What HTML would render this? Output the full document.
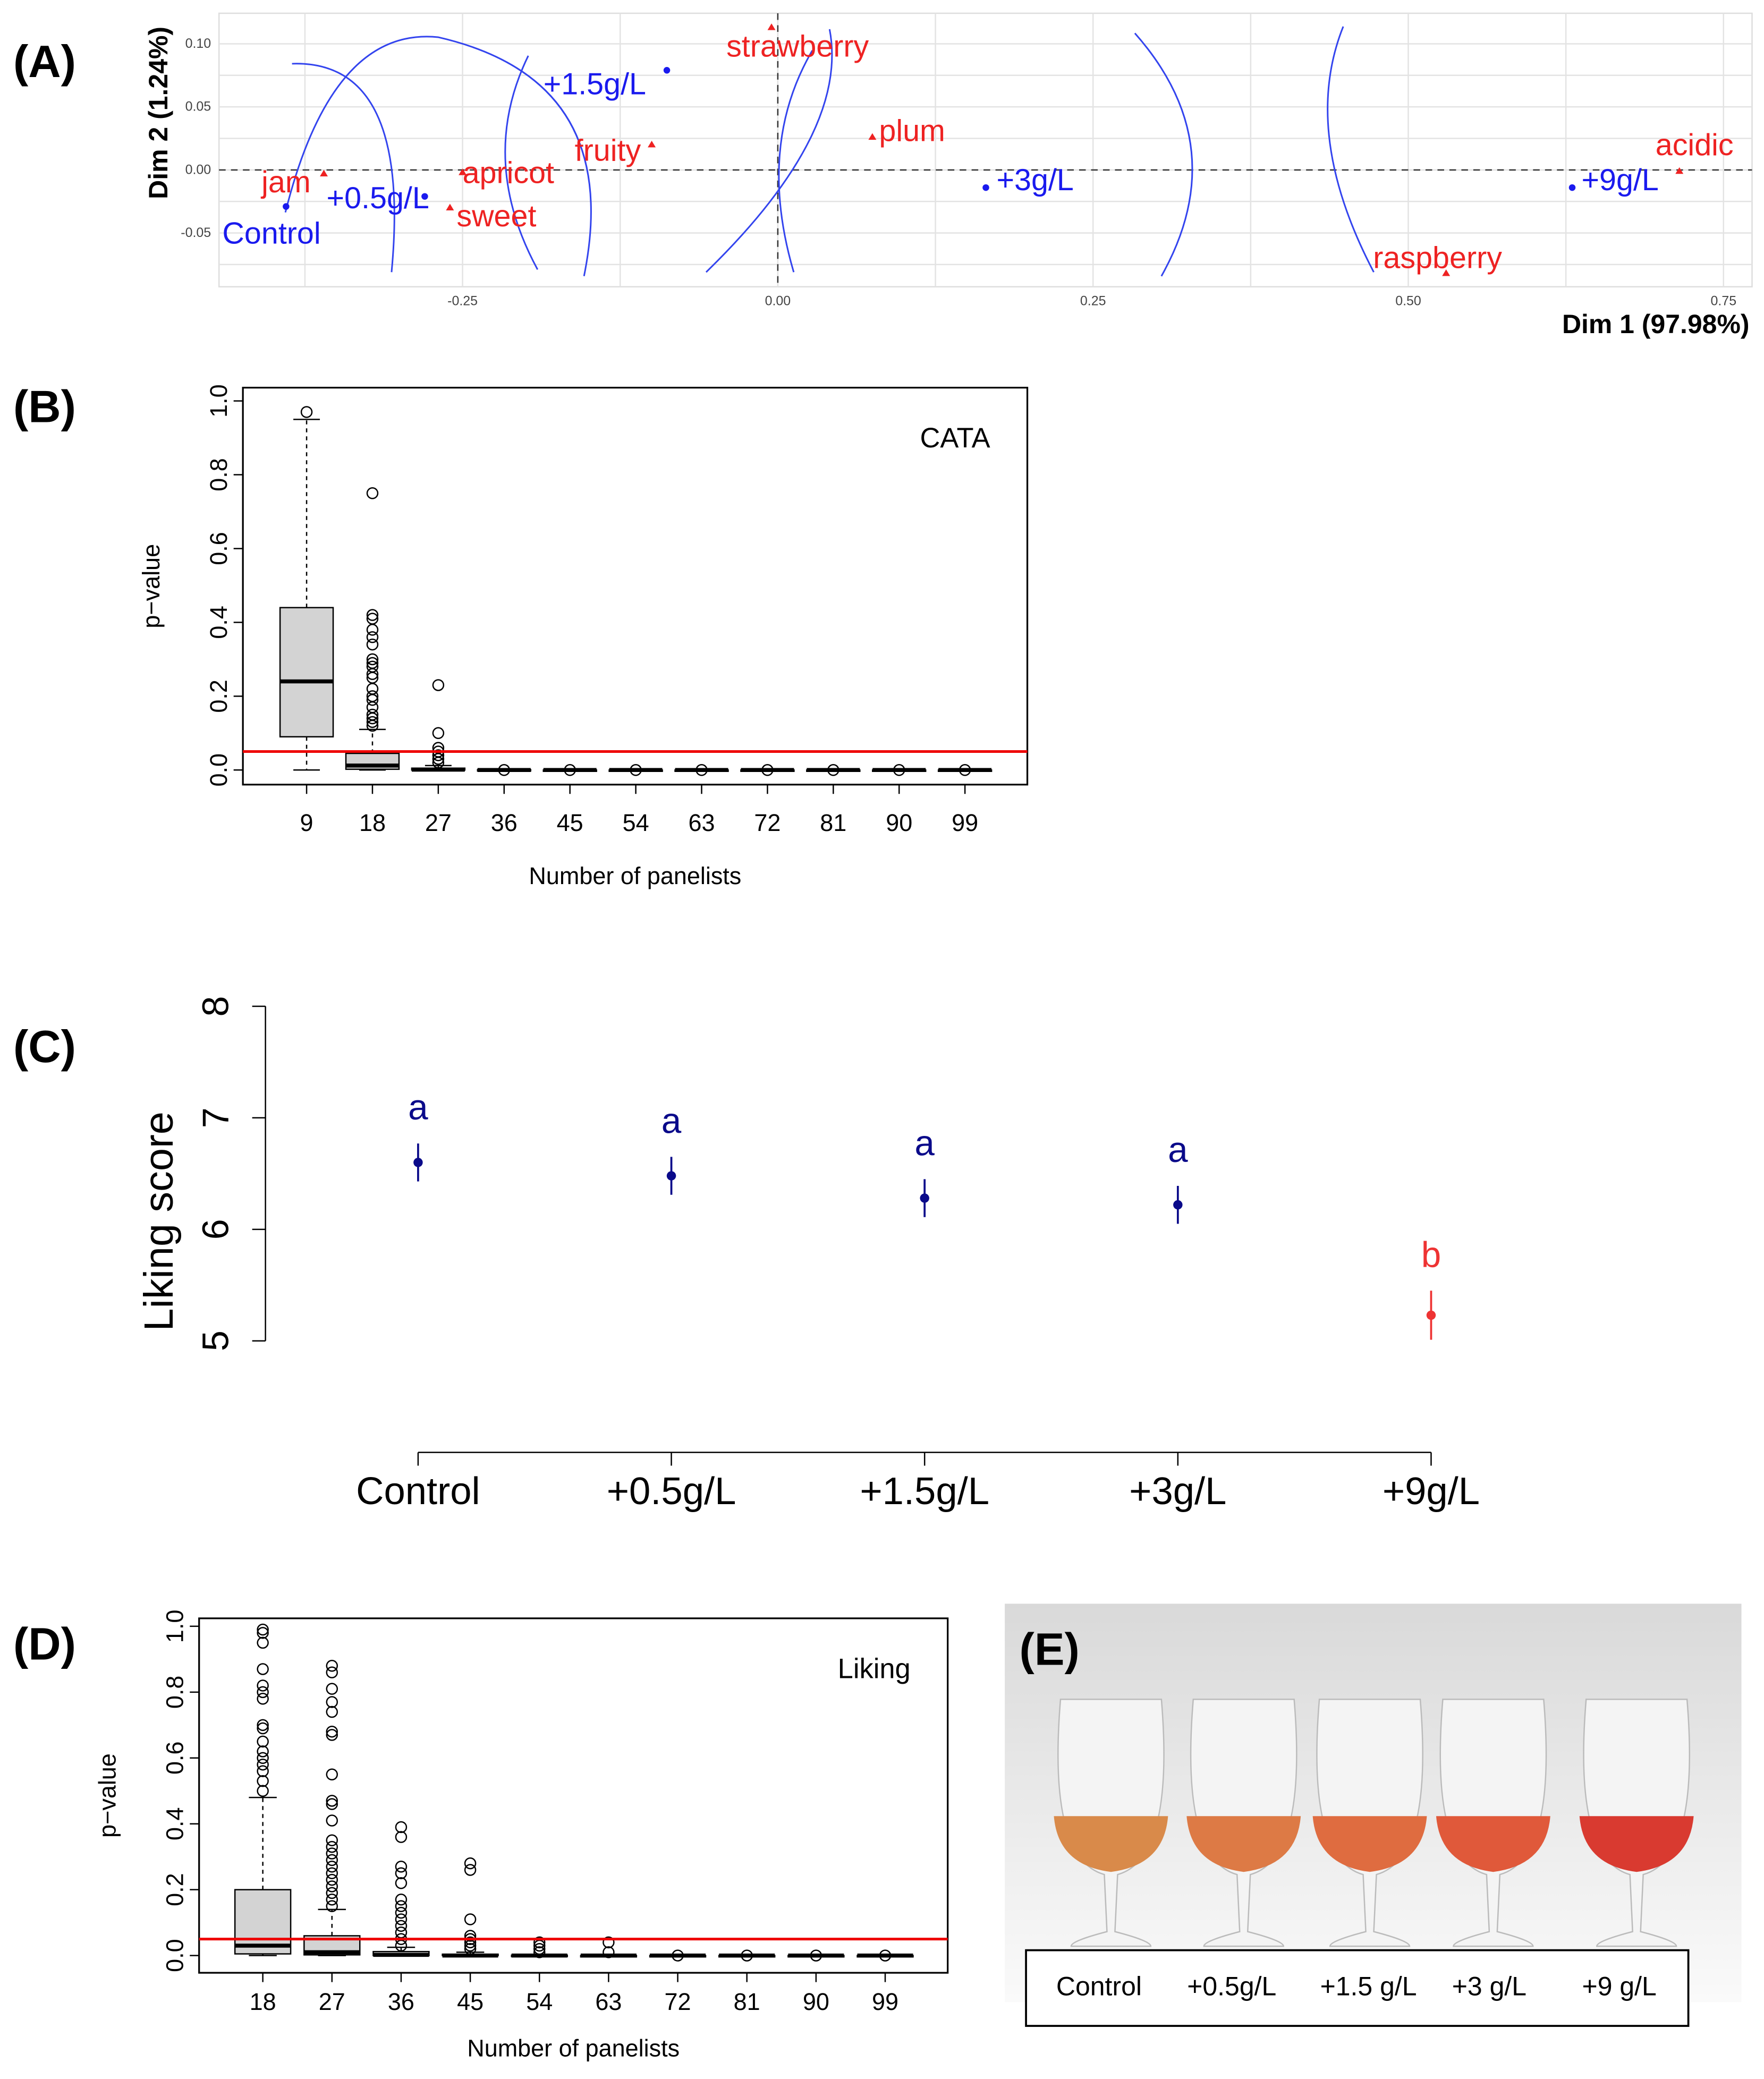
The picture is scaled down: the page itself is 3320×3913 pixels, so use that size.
<!DOCTYPE html>
<html><head><meta charset="utf-8"><style>
html,body{margin:0;padding:0;background:#fff}
svg{display:block;font-family:"Liberation Sans",Arial,sans-serif}
</style></head><body>
<svg id="fig" width="3320" height="3913" viewBox="0 0 1329 1566" preserveAspectRatio="none" xmlns="http://www.w3.org/2000/svg">
<rect width="1329" height="1566" fill="#fff"/>
<g font-weight="bold" font-size="34" fill="#000">
<text x="10" y="58">(A)</text>
<text x="10" y="318">(B)</text>
<text x="10" y="800">(C)</text>
<text x="10" y="1250">(D)</text>
</g>
<g id="pa"></g>
<g id="pb"></g>
<g id="pc"></g>
<g id="pd"></g>
<g id="pe"></g>
</svg>
<script>
// ---------- Panel A data ----------
const aProducts=["Control","+0.5g/L","+1.5g/L","+3g/L","+9g/L"];
const aProdX=[-0.39,-0.28,-0.088,0.165,0.63];
const aProdY=[-0.029,-0.021,0.079,-0.014,-0.014];
const aAttrs=["jam","apricot","sweet","fruity","strawberry","plum","raspberry","acidic"];
const aAttrX=[-0.36,-0.25,-0.26,-0.1,-0.005,0.075,0.53,0.715];
const aAttrY=[-0.003,-0.002,-0.03,0.02,0.113,0.026,-0.082,-0.001];
const aXTicks=[-0.25,0,0.25,0.5,0.75];
const aXTickLabels=["-0.25","0.00","0.25","0.50","0.75"];
const aYTicks=[-0.05,0,0.05,0.1];
const aYTickLabels=["-0.05","0.00","0.05","0.10"];
// ---------- Panel B data ----------
const bCats=["9","18","27","36","45","54","63","72","81","90","99"];
const bQ1=[0.09,0.002,0,0,0,0,0,0,0,0,0];
const bMed=[0.24,0.012,0.001,0,0,0,0,0,0,0,0];
const bQ3=[0.44,0.045,0.005,0.001,0,0,0,0,0,0,0];
const bLo=[0,0,0,0,0,0,0,0,0,0,0];
const bHi=[0.95,0.11,0.012,0.002,0,0,0,0,0,0,0];
const bOut=[[0.97],[0.75,0.42,0.41,0.38,0.36,0.34,0.3,0.29,0.28,0.26,0.25,0.22,0.2,0.19,0.17,0.15,0.14,0.13,0.12],[0.23,0.1,0.06,0.05,0.04,0.03,0.02],[0],[0],[0],[0],[0],[0],[0],[0]];
const bYTicks=[0,0.2,0.4,0.6,0.8,1.0];
const bYTickLabels=["0.0","0.2","0.4","0.6","0.8","1.0"];
// ---------- Panel C data ----------
const cCats=["Control","+0.5g/L","+1.5g/L","+3g/L","+9g/L"];
const cMeans=[6.6,6.48,6.28,6.22,5.23];
const cErr=[0.17,0.17,0.17,0.17,0.22];
const cLetters=["a","a","a","a","b"];
const cYTicks=[5,6,7,8];
// ---------- Panel D data ----------
const dCats=["18","27","36","45","54","63","72","81","90","99"];
const dQ1=[0.005,0.002,0,0,0,0,0,0,0,0];
const dMed=[0.03,0.01,0.002,0,0,0,0,0,0,0];
const dQ3=[0.2,0.06,0.012,0.004,0.001,0,0,0,0,0];
const dLo=[0,0,0,0,0,0,0,0,0,0];
const dHi=[0.48,0.14,0.025,0.01,0.002,0.001,0,0,0,0];
const dOut=[[0.99,0.98,0.95,0.87,0.82,0.8,0.78,0.7,0.69,0.65,0.62,0.6,0.58,0.56,0.53,0.5],[0.88,0.86,0.81,0.77,0.74,0.68,0.67,0.55,0.47,0.46,0.41,0.35,0.33,0.31,0.29,0.27,0.25,0.23,0.21,0.19,0.17,0.15],[0.39,0.36,0.27,0.25,0.22,0.17,0.15,0.13,0.11,0.09,0.07,0.05,0.03],[0.28,0.26,0.11,0.06,0.05,0.04,0.03,0.02],[0.04,0.03,0.02,0.01],[0.04,0.01],[0],[0],[0],[0]];
const dYTicks=[0,0.2,0.4,0.6,0.8,1.0];
const dYTickLabels=["0.0","0.2","0.4","0.6","0.8","1.0"];
// ---------- Panel E ----------
const eLabels=["Control","+0.5g/L","+1.5 g/L","+3 g/L","+9 g/L"];
const eColors=["#d98a4a","#dd7a45","#df6c40","#e0593a","#d93a30"];

const NS="http://www.w3.org/2000/svg";
function mk(parent,tag,attrs,text){const e=document.createElementNS(NS,tag);for(const k in attrs)e.setAttribute(k,attrs[k]);if(text!==undefined)e.textContent=text;parent.appendChild(e);return e;}

// ===== Panel A =====
(function(){
const g=document.getElementById('pa');
const ax=v=>586+v*950, ay=v=>128-v*950;
mk(g,'rect',{x:165,y:10,width:1155,height:206,fill:'#fff',stroke:'#ddd'});
for(let v=-0.5;v<=0.76;v+=0.125){const x=ax(v);if(x<165||x>1320)continue;
 mk(g,'line',{x1:x,x2:x,y1:10,y2:216,stroke:'#e3e3e3','stroke-width':1});}
for(let v=-0.1;v<=0.13;v+=0.025){const y=ay(v);if(y<10||y>216)continue;
 mk(g,'line',{x1:165,x2:1320,y1:y,y2:y,stroke:'#e3e3e3','stroke-width':1});}
mk(g,'line',{x1:165,x2:1320,y1:ay(0),y2:ay(0),stroke:'#333','stroke-dasharray':'5,4'});
mk(g,'line',{x1:ax(0),x2:ax(0),y1:10,y2:216,stroke:'#333','stroke-dasharray':'5,4'});
aXTicks.forEach((v,i)=>{const t=mk(g,'text',{x:ax(v),y:230,'font-size':10,'text-anchor':'middle',fill:'#444'},aXTickLabels[i]);
 });
aYTicks.forEach((v,i)=>{const t=mk(g,'text',{x:159,y:ay(v)+3,'font-size':10,'text-anchor':'end',fill:'#444'},aYTickLabels[i]);
 });
let t=mk(g,'text',{x:1318,y:251,'font-size':20,'font-weight':'bold','text-anchor':'end'},"Dim 1 (97.98%)");

t=mk(g,'text',{x:0,y:0,'font-size':20,'font-weight':'bold','text-anchor':'middle',transform:'translate(126,85) rotate(-90)'},"Dim 2 (1.24%)");

const arcs=["M220,48 Q310,45 295,205","M215,160 Q250,20 330,28 Q470,60 440,208","M398,42 Q360,120 405,203","M532,205 Q640,100 625,22","M598,205 Q570,110 612,38","M855,25 Q930,110 875,208","M1012,20 Q980,100 1035,205"];
arcs.forEach(d=>{const p=mk(g,'path',{d:d,fill:'none',stroke:'#3344ee','stroke-width':1.2});
 });
const pOff=[[-48,28],[-74,9],[-93,18],[8,2],[7,2]];
aProducts.forEach((n,i)=>{const x=ax(aProdX[i]),y=ay(aProdY[i]);
 const c=mk(g,'circle',{cx:x,cy:y,r:2.5,fill:'#1a1aee'});
 const tt=mk(g,'text',{x:x+pOff[i][0],y:y+pOff[i][1],'font-size':23,fill:'#1a1aee'},n);});
const tOff=[[-47,14],[0,8],[5,14],[-58,12],[-34,22],[5,3],[-55,-4],[-18,-12]];
aAttrs.forEach((n,i)=>{const x=ax(aAttrX[i]),y=ay(aAttrY[i]);
 const p=mk(g,'path',{d:`M${x},${y-3} L${x+3},${y+2} L${x-3},${y+2} Z`,fill:'#e22'});
 const tt=mk(g,'text',{x:x+tOff[i][0],y:y+tOff[i][1],'font-size':23,fill:'#e22'},n);});
})();

// ===== Boxplot helper =====
function boxplot(gid,cats,q1,med,q3,lo,hi,out,yt,ytl,P,title){
const g=document.getElementById(gid);
const y=v=>P.y0-v*P.ys, x=i=>P.x0+i*P.xs;
let r=mk(g,'rect',{x:P.L,y:P.T,width:P.R-P.L,height:P.B-P.T,fill:'none',stroke:'#000','stroke-width':1.3});

yt.forEach((v,i)=>{mk(g,'line',{x1:P.L,x2:P.L-7,y1:y(v),y2:y(v),stroke:'#000'});
 const t=mk(g,'text',{x:0,y:0,'font-size':18,'text-anchor':'middle',transform:`translate(${P.L-12},${y(v)}) rotate(-90)`},ytl[i]);
 });
cats.forEach((c,i)=>{mk(g,'line',{x1:x(i),x2:x(i),y1:P.B,y2:P.B+7,stroke:'#000'});
 const t=mk(g,'text',{x:x(i),y:P.B+P.tk,'font-size':18,'text-anchor':'middle'},c);
 const w=P.bw;
 mk(g,'line',{x1:x(i),x2:x(i),y1:y(q3[i]),y2:y(hi[i]),stroke:'#000','stroke-dasharray':'3,3'});
 mk(g,'line',{x1:x(i),x2:x(i),y1:y(q1[i]),y2:y(lo[i]),stroke:'#000','stroke-dasharray':'3,3'});
 mk(g,'line',{x1:x(i)-w/4,x2:x(i)+w/4,y1:y(hi[i]),y2:y(hi[i]),stroke:'#000'});
 mk(g,'line',{x1:x(i)-w/4,x2:x(i)+w/4,y1:y(lo[i]),y2:y(lo[i]),stroke:'#000'});
 const b=mk(g,'rect',{x:x(i)-w/2,y:y(q3[i]),width:w,height:Math.max(1,y(q1[i])-y(q3[i])),fill:'#d3d3d3',stroke:'#000'});
 
 mk(g,'line',{x1:x(i)-w/2,x2:x(i)+w/2,y1:y(med[i]),y2:y(med[i]),stroke:'#000','stroke-width':3});
 out[i].forEach(v=>{const o=mk(g,'circle',{cx:x(i),cy:y(v),r:4,fill:'none',stroke:'#000','stroke-width':1});});
});
const rl=mk(g,'line',{x1:P.L,x2:P.R,y1:y(0.05),y2:y(0.05),stroke:'#e00','stroke-width':2});
let t=mk(g,'text',{x:(P.L+P.R)/2,y:P.B+P.tt,'font-size':18,'text-anchor':'middle'},"Number of panelists");
t=mk(g,'text',{x:0,y:0,'font-size':18,'text-anchor':'middle',transform:`translate(${P.L-63},${(P.T+P.B)/2}) rotate(-90)`},"p\u2212value");
t=mk(g,'text',{x:P.R-28,y:P.T+45,'font-size':21,'text-anchor':'end'},title);
}
boxplot('pb',bCats,bQ1,bMed,bQ3,bLo,bHi,bOut,bYTicks,bYTickLabels,{L:183,R:774,T:292,B:591,y0:580,ys:278,x0:231,xs:49.6,bw:40,tk:35,tt:75},"CATA");
boxplot('pd',dCats,dQ1,dMed,dQ3,dLo,dHi,dOut,dYTicks,dYTickLabels,{L:150,R:714,T:1219,B:1486,y0:1473,ys:248,x0:198,xs:52.1,bw:42,tk:28,tt:63},"Liking");

// ===== Panel C =====
(function(){
const g=document.getElementById('pc');
const y=v=>1010-(v-5)*84, x=i=>315+i*190.8;
mk(g,'line',{x1:200,x2:200,y1:y(8),y2:y(5),stroke:'#000'});
cYTicks.forEach(v=>{mk(g,'line',{x1:200,x2:190,y1:y(v),y2:y(v),stroke:'#000'});
 const t=mk(g,'text',{x:0,y:0,'font-size':28,'text-anchor':'middle',transform:`translate(172,${y(v)}) rotate(-90)`},String(v));
 });
let t=mk(g,'text',{x:0,y:0,'font-size':31,'text-anchor':'middle',transform:'translate(130,920) rotate(-90)'},"Liking score");

mk(g,'line',{x1:x(0),x2:x(4),y1:1094,y2:1094,stroke:'#000'});
cCats.forEach((c,i)=>{mk(g,'line',{x1:x(i),x2:x(i),y1:1094,y2:1104,stroke:'#000'});
 const tt=mk(g,'text',{x:x(i),y:1133,'font-size':29,'text-anchor':'middle'},c);
 const col=cLetters[i]==='b'?'#ee3333':'#0a0a8a';
 mk(g,'line',{x1:x(i),x2:x(i),y1:y(cMeans[i]+cErr[i]),y2:y(cMeans[i]-cErr[i]),stroke:col,'stroke-width':1.5});
 const p=mk(g,'circle',{cx:x(i),cy:y(cMeans[i]),r:3.5,fill:col});
 const l=mk(g,'text',{x:x(i),y:y(cMeans[i]+cErr[i])-18,'font-size':27,'text-anchor':'middle',fill:col},cLetters[i]);
 });
})();

// ===== Panel E =====
(function(){
const g=document.getElementById('pe');
const defs=mk(g,'defs',{});
const lg=mk(defs,'linearGradient',{id:'bg',x1:0,y1:0,x2:0,y2:1});
mk(lg,'stop',{offset:0,'stop-color':'#d9d9d9'});mk(lg,'stop',{offset:0.75,'stop-color':'#f2f2f2'});mk(lg,'stop',{offset:1,'stop-color':'#fafafa'});
mk(g,'rect',{x:757,y:1208,width:555,height:300,fill:'url(#bg)'});
let t=mk(g,'text',{x:768,y:1254,'font-size':34,'font-weight':'bold'},"(E)");
const gx=[837,937,1032,1125,1233];
gx.forEach((cx,i)=>{
 const gl=mk(g,'g',{});
 mk(gl,'path',{d:`M${cx-38},1280 Q${cx-48},1400 ${cx-5},1412 L${cx-3},1455 Q${cx-30},1462 ${cx-30},1466 L${cx+30},1466 Q${cx+30},1462 ${cx+3},1455 L${cx+5},1412 Q${cx+48},1400 ${cx+38},1280 Z`,fill:'#f4f4f4',stroke:'#bbb','stroke-width':1});
 mk(gl,'path',{d:`M${cx-43},1368 L${cx+43},1368 Q${cx+40},1405 ${cx},1410 Q${cx-40},1405 ${cx-43},1368 Z`,fill:eColors[i]});
});
const lb=mk(g,'rect',{x:773,y:1469,width:499,height:57,fill:'#fff',stroke:'#000','stroke-width':1.5});

const lx=[828,928,1031,1122,1220];
eLabels.forEach((s,i)=>{const tt=mk(g,'text',{x:lx[i],y:1503,'font-size':20,'text-anchor':'middle'},s);});
})();
</script>
</body></html>
